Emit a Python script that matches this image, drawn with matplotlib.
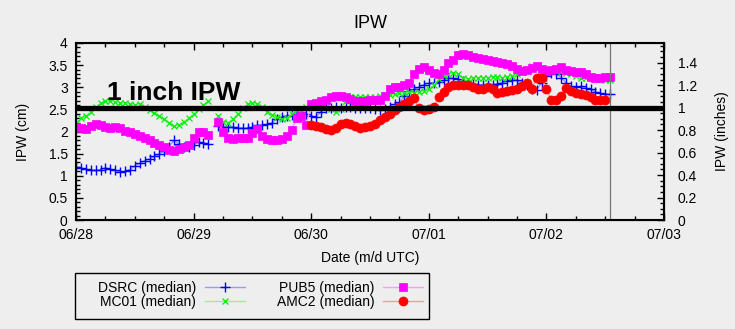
import numpy as np
import matplotlib
matplotlib.use('Agg')
import matplotlib.pyplot as plt
from matplotlib.patches import Rectangle
from matplotlib.ticker import MultipleLocator, FormatStrFormatter

plt.rcParams['font.family'] = ['Liberation Sans', 'DejaVu Sans']

nan = np.nan

# hourly medians starting 06/28 00 UTC, in cm
dsrc = [1.20, 1.18, 1.15, 1.13, 1.12, 1.14, 1.18, 1.15, 1.12, 1.09, 1.10, 1.14,
        1.22, 1.28, 1.34, 1.38, 1.44, 1.50, 1.56, 1.66, 1.80, 1.72, 1.66, 1.64,
        1.70, 1.76, 1.74, 1.72, nan, 2.12, 2.11, 2.10, 2.10, 2.09, 2.08, 2.07,
        2.10, 2.14, 2.15, 2.16, 2.20, 2.28, 2.33, 2.36, 2.37, 2.40, 2.45, 2.40,
        2.35, 2.32, 2.45, 2.52, 2.54, 2.55, 2.54, 2.55, 2.55, 2.54, 2.54, 2.53,
        2.52, 2.50, 2.48, 2.50, 2.56, 2.62, 2.66, 2.80, 2.92, 2.96, 3.00, 3.06,
        3.10, 3.10, 3.12, 3.16, 3.20, 3.20, 3.18, 3.14, 3.10, 3.08, 3.06, 3.06,
        3.05, 3.06, 3.08, 3.10, 3.14, 3.16, 3.16, 3.10, 3.05, 2.96, 2.94, 3.10,
        3.25, 3.32, 3.30, 3.22, 3.10, 3.02, 3.00, 3.02, 2.98, 2.95, 2.90, 2.86,
        2.85, 2.84]

mc01 = [2.20, 2.30, 2.35, 2.45, 2.55, 2.64, 2.68, 2.70, 2.66, 2.65, 2.64, 2.62,
        2.60, 2.62, 2.55, 2.48, 2.42, 2.35, 2.28, 2.20, 2.12, 2.15, 2.22, 2.30,
        2.40, 2.50, 2.60, 2.68, nan, 2.35, 2.22, 2.20, 2.28, 2.40, 2.52, 2.62,
        2.65, 2.62, 2.55, 2.45, 2.38, 2.32, 2.28, 2.30, 2.40, 2.48, 2.45, 2.55,
        2.62, 2.60, 2.58, 2.55, 2.50, 2.44, 2.50, 2.70, 2.78, 2.78, 2.77, 2.78,
        2.77, 2.78, 2.80, 2.82, 2.82, 2.84, 2.86, 2.88, 2.90, 2.88, 2.90, 2.92,
        2.95, 3.05, 3.18, 3.26, 3.30, 3.32, 3.30, 3.22, 3.18, 3.20, 3.22, 3.22,
        3.22, 3.24, 3.24, 3.22, 3.24, 3.26, 3.30, 3.35, 3.40, 3.48, 3.46, 3.42,
        3.40, 3.38, 3.36, 3.34, 3.32, 3.30, 3.26, 3.22, 3.22, 3.20, 3.18, 3.18,
        3.16, 3.16]

pub5 = [2.10, 2.08, 2.06, 2.12, 2.18, 2.14, 2.10, 2.08, 2.10, 2.08, 2.02, 1.98,
        1.94, 1.90, 1.86, 1.80, 1.74, 1.70, 1.64, 1.58, 1.55, 1.60, 1.66, 1.70,
        1.86, 1.98, 2.00, 1.92, nan, 2.22, 2.00, 1.85, 1.84, 1.86, 1.85, 1.86,
        1.96, 2.06, 1.90, 1.82, 1.80, 1.80, 1.82, 1.90, 2.04, 2.30, 2.35, 2.15,
        2.62, 2.65, 2.68, 2.72, 2.78, 2.80, 2.80, 2.78, 2.74, 2.70, 2.70, 2.70,
        2.71, 2.71, 2.72, 2.80, 2.95, 3.00, 3.00, 3.05, 3.10, 3.30, 3.42, 3.45,
        3.40, 3.32, 3.30, 3.40, 3.55, 3.62, 3.72, 3.75, 3.72, 3.68, 3.66, 3.64,
        3.62, 3.60, 3.58, 3.55, 3.52, 3.48, 3.42, 3.36, 3.38, 3.44, 3.48, 3.42,
        3.36, 3.38, 3.42, 3.46, 3.40, 3.36, 3.35, 3.34, 3.30, 3.24, 3.22, 3.20,
        3.24, 3.24]

amc2 = [nan] * 48 + [
        2.15, 2.12, 2.10, 2.05, 2.03, 2.08, 2.18, 2.20, 2.16, 2.12, 2.08, 2.10,
        2.12, 2.16, 2.25, 2.32, 2.40, 2.48, 2.55, 2.62, 2.70, 2.75, 2.52, 2.48,
        2.50, 2.56, 2.78, 2.90, 3.00, 3.05, 3.05, 3.05, 3.04, 3.00, 2.95, 2.96,
        3.00, 2.95, 2.88, 2.90, 2.92, 2.94, 2.95, 3.02, 3.10, 2.96, 3.20, 3.22,
        2.96, 2.72, 2.72, 2.80, 2.98, 2.92, 2.86, 2.85, 2.82, 2.78, 2.72, 2.71,
        2.72, nan]

hours = np.arange(len(dsrc))
day_labels = ['06/28', '06/29', '06/30', '07/01', '07/02', '07/03']
one_inch = 2.54
now_hour = 109

bg = '#eeeeee'
W, H = 735, 329
fig = plt.figure(figsize=(W / 100, H / 100), dpi=100, facecolor=bg)
ax = fig.add_axes([76 / W, 1 - 220 / H, 588 / W, 177 / H], facecolor=bg)

series = [
    ('DSRC (median)', dsrc, '#0000ff', '#9999ff', '+', 6.5, 1.0),
    ('MC01 (median)', mc01, '#00ee00', '#99ee99', 'x', 5, 0.9),
    ('PUB5 (median)', pub5, '#ff00ff', '#ff99ff', 's', 6.3, 0.5),
    ('AMC2 (median)', amc2, '#ff0000', '#ff9999', 'o', 6.5, 0.5),
]
for label, vals, col, lcol, mk, ms, mew in series:
    ax.plot(hours, vals, color=lcol, lw=1, marker=mk, ms=ms, mew=mew,
            mfc=col, mec=col, label=label)

ax.axhline(one_inch, color='black', lw=3.8, zorder=5)
ax.axvline(now_hour, color='#777777', lw=0.9)
ax.text(6.3, 2.71, '1 inch IPW', fontsize=19, fontweight='bold', va='baseline', zorder=6)

ax.set_xlim(0, 120)
ax.set_ylim(0, 4)
ax.set_xticks(np.arange(0, 121, 24))
ax.set_xticklabels(day_labels)
ax.xaxis.set_minor_locator(MultipleLocator(6))
ax.yaxis.set_major_locator(MultipleLocator(0.5))
ax.yaxis.set_minor_locator(MultipleLocator(0.1))
ax.yaxis.set_major_formatter(FormatStrFormatter('%g'))
ax.tick_params(which='both', direction='in', top=True, right=False, labelsize=10)
ax.tick_params(which='major', length=5, width=1)
ax.tick_params(which='minor', length=3, width=1)
ax.tick_params(axis='y', pad=6)
ax.tick_params(axis='x', pad=6)
ax.set_title('IPW', fontsize=13, pad=11)
ax.set_ylabel('IPW (cm)', fontsize=10, labelpad=13)
ax.set_xlabel('Date (m/d UTC)', fontsize=10, labelpad=6)
for s in ax.spines.values():
    s.set_linewidth(1.5)

ax2 = ax.twinx()
ax2.set_ylim(0, 4 / one_inch)
ax2.yaxis.set_major_locator(MultipleLocator(0.2))
ax2.yaxis.set_minor_locator(MultipleLocator(0.05))
ax2.yaxis.set_major_formatter(FormatStrFormatter('%g'))
ax2.tick_params(which='both', direction='in', labelsize=10, pad=10)
ax2.tick_params(which='major', length=5, width=1)
ax2.tick_params(which='minor', length=3, width=1)
ax2.set_ylabel('IPW (inches)', fontsize=10, labelpad=13)

# key below the plot: labels left of their samples, boxed separately
fig.legend(*ax.get_legend_handles_labels(), loc='upper right',
           bbox_to_anchor=(423 / W, 1 - 281 / H), ncol=2,
           markerfirst=False, numpoints=1, fontsize=10, handlelength=2.9,
           handletextpad=0.6, columnspacing=2.3, labelspacing=0.0,
           borderpad=0, borderaxespad=0, frameon=False)
fig.add_artist(Rectangle((75 / W, 1 - 319 / H), 354 / W, 46 / H,
                         transform=fig.transFigure, fill=False,
                         edgecolor='black', lw=1.0))

plt.savefig('out.png', dpi=100, facecolor=bg)
